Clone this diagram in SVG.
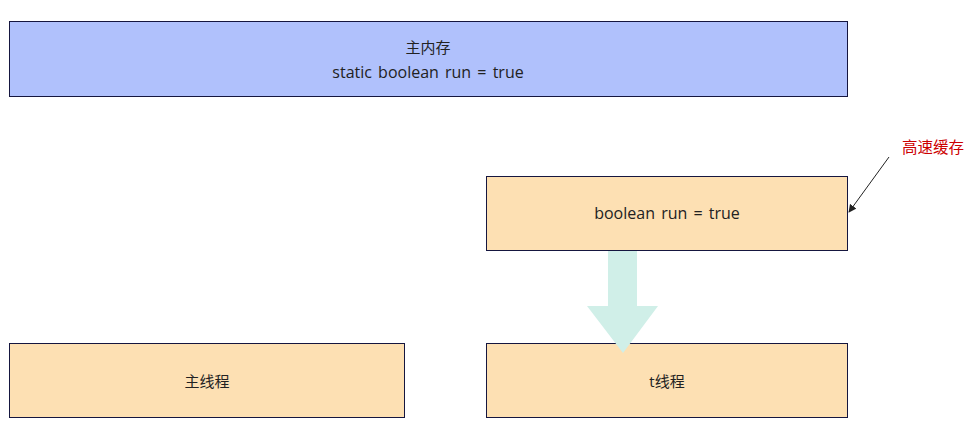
<svg xmlns="http://www.w3.org/2000/svg" width="972" height="432" viewBox="0 0 972 432">
<style>
.box{stroke:#15163f;stroke-width:1}
.mem{fill:#b0c1fc}
.org{fill:#fde0b3}
text{font-family:"Open Sans","Noto Sans CJK SC",sans-serif;font-size:15px;fill:#222;text-anchor:middle}
.lat{font-size:16px;word-spacing:2px}
.red{fill:#cc0000;text-anchor:start}
</style>
<defs>
<marker id="ah" viewBox="0 0 10 10" refX="9" refY="5" markerWidth="8" markerHeight="8" orient="auto" markerUnits="userSpaceOnUse"><path d="M0,0 L10,5 L0,10 z" fill="#222"/></marker>
</defs>
<g id="main-memory">
<rect class="box mem" x="9.5" y="21.5" width="838" height="75"/>
<text x="428" y="53">主内存</text>
<text class="lat" x="428" y="78">static boolean run = true</text>
</g>
<g id="cache">
<rect class="box org" x="486.5" y="176.5" width="361" height="74"/>
<text class="lat" x="667" y="219">boolean run = true</text>
</g>
<g id="main-thread">
<rect class="box org" x="9.5" y="343.5" width="395" height="74"/>
<text x="207" y="387">主线程</text>
</g>
<g id="t-thread">
<rect class="box org" x="486.5" y="343.5" width="361" height="74"/>
<text x="667" y="387">t线程</text>
</g>
<g id="cache-label">
<text class="red" x="902" y="153" style="font-size:15.5px">高速缓存</text>
</g>
<g id="connectors">
<polygon points="608,251 637,251 637,306 658,306 623,353 587,306 608,306" fill="#d0efe8"/>
<line x1="889" y1="157" x2="849" y2="212" stroke="#222" stroke-width="1" marker-end="url(#ah)"/>
</g>
</svg>
